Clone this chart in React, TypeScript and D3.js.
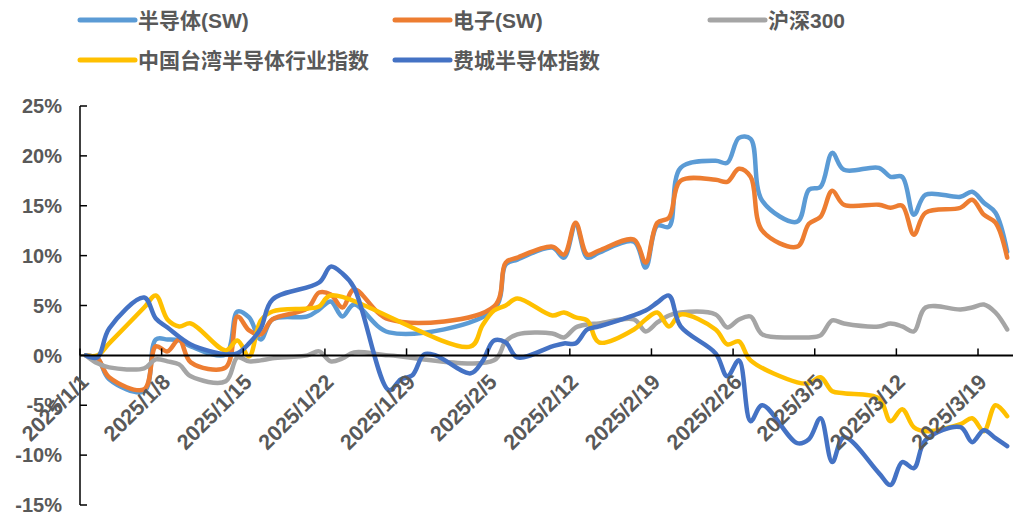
import React, { useEffect, useRef } from 'react';
import * as d3 from 'd3';

// 交易日（工作日并集），null = 该市场休市
const dates = [
  '2025-01-01', '2025-01-02', '2025-01-03', '2025-01-06', '2025-01-07', '2025-01-08', '2025-01-09', '2025-01-10',
  '2025-01-13', '2025-01-14', '2025-01-15', '2025-01-16', '2025-01-17', '2025-01-20', '2025-01-21', '2025-01-22',
  '2025-01-23', '2025-01-24', '2025-01-27', '2025-01-28', '2025-01-29', '2025-01-30', '2025-01-31', '2025-02-03',
  '2025-02-04', '2025-02-05', '2025-02-06', '2025-02-07', '2025-02-10', '2025-02-11', '2025-02-12', '2025-02-13',
  '2025-02-14', '2025-02-17', '2025-02-18', '2025-02-19', '2025-02-20', '2025-02-21', '2025-02-24', '2025-02-25',
  '2025-02-26', '2025-02-27', '2025-02-28', '2025-03-03', '2025-03-04', '2025-03-05', '2025-03-06', '2025-03-07',
  '2025-03-10', '2025-03-11', '2025-03-12', '2025-03-13', '2025-03-14', '2025-03-17', '2025-03-18', '2025-03-19',
  '2025-03-20', '2025-03-21',
];

const semiSW = [
  0, -0.3, -2.4, -3.6, 1.6, 1.6, 1.5, 0.9,
  0.1, 4.4, 3.8, 1.6, 3.6, 3.9, 4.6, 5.4,
  3.9, 5.1, 2.3, null, null, null, null, null,
  null, 4.6, 9.1, 9.6, 10.8, 9.8, 13.1, 9.8,
  10.3, 11.4, 8.8, 13.0, 12.9, 18.8, 19.5, 19.3,
  21.8, 21.7, 15.5, 13.4, 16.6, 16.9, 20.3, 18.6,
  18.8, 17.9, 17.9, 14.1, 16.1, 15.9, 16.4, 15.3,
  14.3, 10.4,
];

const elecSW = [
  0, -0.3, -2.2, -3.4, 0.9, 0.4, 1.6, -0.7,
  -1.2, 3.9, 2.5, 2.1, 3.6, 4.7, 6.3, 6.1,
  4.8, 6.6, 3.6, null, null, null, null, null,
  null, 4.9, 9.3, 9.8, 10.9, 10.1, 13.3, 10.1,
  10.5, 11.6, 9.3, 13.3, 13.8, 17.5, 17.6, 17.4,
  18.7, 17.9, 12.5, 10.9, 13.2, 13.9, 16.5, 15.1,
  15.1, 14.8, 15.0, 12.1, 14.3, 14.8, 15.6, 14.1,
  13.3, 9.8,
];

const hs300 = [
  0, -0.8, -1.2, -1.3, -0.4, -0.6, -0.9, -2.1,
  -2.6, -0.2, -0.6, -0.5, -0.3, 0.0, 0.4, -0.6,
  -0.3, 0.3, 0.0, null, null, null, null, null,
  null, -0.5, 1.4, 2.1, 2.2, 1.8, 2.8, 3.1,
  3.2, 3.6, 2.4, 3.3, 4.0, 4.3, 4.1, 2.8,
  3.6, 3.9, 2.1, 1.8, 1.8, 2.0, 3.5, 3.2,
  2.9, 3.2, 2.9, 2.4, 4.8, 4.6, 4.8, 5.1,
  4.3, 2.6,
];

const twSemi = [
  0, 0.0, 1.2, 4.8, 6.0, 3.6, 2.9, 3.2,
  0.5, 1.5, -0.1, 3.5, 4.4, 4.7, 4.9, 6.0,
  null, null, null, null, null, null, null, 0.9,
  3.0, 4.5, 5.0, 5.7, 4.0, 4.3, 3.8, 3.5,
  1.3, 2.6, 3.6, 4.3, 2.9, 4.1, 2.6, 1.1,
  1.4, -0.5, null, -2.7, -2.8, -2.2, -3.6, -3.8,
  -4.3, -6.6, -5.4, -7.2, -7.6, -6.9, -6.3, -7.6,
  -5.0, -6.1,
];

const soxIndex = [
  0, -0.2, 2.7, 5.8, 3.7, 2.8, null, 1.1,
  0.1, 0.2, 1.2, 2.7, 5.6, null, 7.3, 8.9,
  8.2, 6.8, -3.5, -2.4, -2.0, 0.1, 0.0, -1.8,
  -0.6, 1.5, 1.3, -0.2, 0.9, 1.2, 1.2, 2.6,
  2.9, null, 4.5, 5.3, 6.0, 2.9, 0.2, -2.1,
  -0.5, -6.6, -5.0, -8.8, -8.4, -6.3, -10.7, -8.2,
  -11.8, -13.0, -10.7, -11.3, -8.5, -7.2, -8.7, -7.5,
  -8.3, -9.1,
];

const seriesNames = ['半导体(SW)', '电子(SW)', '沪深300', '中国台湾半导体行业指数', '费城半导体指数'];
const seriesColors = ['#5B9BD5', '#ED7D31', '#A5A5A5', '#FFC000', '#4472C4'];
const yTicks = [-15, -10, -5, 0, 5, 10, 15, 20, 25];

const App: React.FC = () => {
  const ref = useRef<SVGSVGElement>(null);

  useEffect(() => {
    document.body.style.margin = '0';
    const svg = d3.select(ref.current);
    svg.selectAll('*').remove();

    const parse = d3.utcParse('%Y-%m-%d');
    const days = dates.map(d => parse(d) as Date);
    const start = days[0];
    const end = d3.utcDay.offset(days[days.length - 1], 1);

    const x = d3.scaleUtc().domain([start, end]).range([80, 1013]);
    const y = d3.scaleLinear().domain([-15, 25]).range([505, 106]);
    const numFont = "'Liberation Sans', Arial, sans-serif";
    const cjkFont = "'Liberation Sans', Arial, 'Noto Sans CJK SC', sans-serif";

    // y 轴
    const yAxis = svg.append('g');
    yAxis.append('line')
      .attr('x1', x(start)).attr('x2', x(start))
      .attr('y1', y(25)).attr('y2', y(-15))
      .attr('stroke', '#000').attr('stroke-width', 1.5);
    yAxis.selectAll('line.tick')
      .data(yTicks)
      .enter().append('line')
      .attr('class', 'tick')
      .attr('x1', x(start)).attr('x2', x(start) + 7)
      .attr('y1', d => y(d)).attr('y2', d => y(d))
      .attr('stroke', '#000').attr('stroke-width', 1.5);
    yAxis.selectAll('text')
      .data(yTicks)
      .enter().append('text')
      .attr('x', 62)
      .attr('y', d => y(d))
      .attr('dy', '0.36em')
      .attr('text-anchor', 'end')
      .attr('font-family', numFont)
      .attr('font-weight', 'bold')
      .attr('font-size', 20)
      .attr('fill', '#595959')
      .text(d => `${d}%`);

    // x 轴（0% 处）
    const xTicks = d3.utcDay.range(start, end, 7);
    const fmt = d3.utcFormat('%Y/%-m/%-d');
    const xAxis = svg.append('g');
    xAxis.selectAll('line')
      .data(xTicks)
      .enter().append('line')
      .attr('x1', d => x(d)).attr('x2', d => x(d))
      .attr('y1', y(0)).attr('y2', y(0) - 7)
      .attr('stroke', '#000').attr('stroke-width', 1.5);

    const lineOf = (vals: (number | null)[]) => {
      const pts = days
        .map((d, i) => ({ d: d3.utcHour.offset(d, 12), v: vals[i] }))
        .filter(p => p.v !== null) as { d: Date; v: number }[];
      return d3.line<{ d: Date; v: number }>()
        .x(p => x(p.d))
        .y(p => y(p.v))
        .curve(d3.curveCatmullRom.alpha(0.5))(pts);
    };

    const series = [semiSW, elecSW, hs300, twSemi, soxIndex];
    series.forEach((vals, i) => {
      svg.append('path')
        .attr('d', lineOf(vals) || '')
        .attr('fill', 'none')
        .attr('stroke', seriesColors[i])
        .attr('stroke-width', 4.5)
        .attr('stroke-linejoin', 'round')
        .attr('stroke-linecap', 'round');
    });

    xAxis.append('line')
      .attr('x1', x(start)).attr('x2', x(end))
      .attr('y1', y(0)).attr('y2', y(0))
      .attr('stroke', '#000').attr('stroke-width', 2);
    xAxis.raise();

    svg.append('g').selectAll('text')
      .data(xTicks)
      .enter().append('text')
      .attr('transform', d => `translate(${x(d) + 10},${y(0) + 28}) rotate(-45)`)
      .attr('text-anchor', 'end')
      .attr('font-family', numFont)
      .attr('font-weight', 'bold')
      .attr('font-size', 21.5)
      .attr('fill', '#595959')
      .text(d => fmt(d));

    // 图例
    const legendX = [80, 395, 710, 80, 395];
    const legendY = [20, 20, 20, 60, 60];
    const legend = svg.append('g');
    seriesNames.forEach((name, i) => {
      legend.append('line')
        .attr('x1', legendX[i]).attr('x2', legendX[i] + 55)
        .attr('y1', legendY[i]).attr('y2', legendY[i])
        .attr('stroke', seriesColors[i])
        .attr('stroke-width', 5)
        .attr('stroke-linecap', 'round');
      legend.append('text')
        .attr('x', legendX[i] + 58)
        .attr('y', legendY[i])
        .attr('dy', '0.36em')
        .attr('font-family', cjkFont)
        .attr('font-weight', 'bold')
        .attr('font-size', 21)
        .attr('fill', '#595959')
        .text(name);
    });
  }, []);

  return <svg ref={ref} width={1022} height={517} style={{ display: 'block', background: '#fff' }} />;
};

export default App;
